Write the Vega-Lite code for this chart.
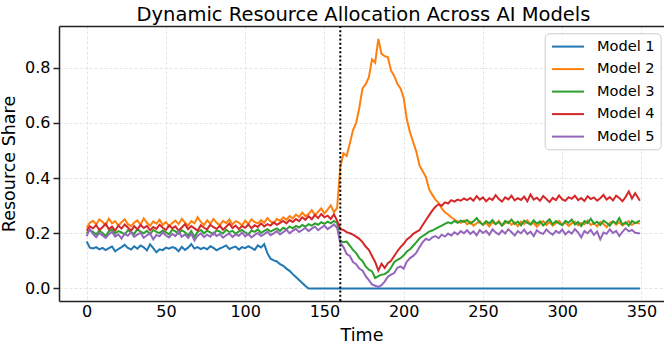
{
  "$schema": "https://vega.github.io/schema/vega-lite/v6.json",
  "width": 605,
  "height": 275,
  "autosize": {"type": "none"},
  "padding": {"left": 59, "top": 26, "right": 0, "bottom": 45},
  "background": "white",
  "config": {
    "view": {"stroke": null},
    "font": "DejaVu Sans",
    "axis": {
      "labelFont": "DejaVu Sans",
      "titleFont": "DejaVu Sans",
      "labelFontSize": 16,
      "titleFontSize": 17.5,
      "titleFontWeight": "normal",
      "labelColor": "#000000",
      "titleColor": "#000000",
      "domainColor": "#222222",
      "domainWidth": 1.5,
      "tickColor": "#222222",
      "tickWidth": 1.5,
      "tickSize": 6,
      "labelPadding": 3,
      "gridColor": "#dddddd",
      "gridDash": [3, 2],
      "gridWidth": 0.8
    }
  },
  "title": {
    "text": "Dynamic Resource Allocation Across AI Models",
    "font": "DejaVu Sans",
    "fontSize": 19.5,
    "fontWeight": "normal",
    "color": "#000000",
    "anchor": "middle",
    "baseline": "alphabetic",
    "offset": 3,
    "dy": 18.7,
    "dx": 2
  },
  "datasets": {
    "shares": [
      {"t":0,"Model 1":0.170,"Model 2":0.220,"Model 3":0.200,"Model 4":0.210,"Model 5":0.190},
      {"t":2,"Model 1":0.148,"Model 2":0.238,"Model 3":0.212,"Model 4":0.225,"Model 5":0.215},
      {"t":4,"Model 1":0.145,"Model 2":0.245,"Model 3":0.205,"Model 4":0.218,"Model 5":0.198},
      {"t":6,"Model 1":0.150,"Model 2":0.232,"Model 3":0.196,"Model 4":0.230,"Model 5":0.186},
      {"t":8,"Model 1":0.142,"Model 2":0.250,"Model 3":0.210,"Model 4":0.212,"Model 5":0.201},
      {"t":10,"Model 1":0.147,"Model 2":0.241,"Model 3":0.201,"Model 4":0.222,"Model 5":0.192},
      {"t":12,"Model 1":0.139,"Model 2":0.229,"Model 3":0.190,"Model 4":0.235,"Model 5":0.183},
      {"t":14,"Model 1":0.146,"Model 2":0.253,"Model 3":0.207,"Model 4":0.215,"Model 5":0.197},
      {"t":16,"Model 1":0.152,"Model 2":0.236,"Model 3":0.214,"Model 4":0.224,"Model 5":0.205},
      {"t":18,"Model 1":0.135,"Model 2":0.244,"Model 3":0.199,"Model 4":0.210,"Model 5":0.188},
      {"t":20,"Model 1":0.143,"Model 2":0.228,"Model 3":0.208,"Model 4":0.228,"Model 5":0.196},
      {"t":22,"Model 1":0.150,"Model 2":0.240,"Model 3":0.203,"Model 4":0.217,"Model 5":0.181},
      {"t":24,"Model 1":0.158,"Model 2":0.251,"Model 3":0.195,"Model 4":0.232,"Model 5":0.199},
      {"t":26,"Model 1":0.147,"Model 2":0.233,"Model 3":0.211,"Model 4":0.221,"Model 5":0.191},
      {"t":28,"Model 1":0.141,"Model 2":0.226,"Model 3":0.204,"Model 4":0.209,"Model 5":0.204},
      {"t":30,"Model 1":0.153,"Model 2":0.239,"Model 3":0.198,"Model 4":0.226,"Model 5":0.187},
      {"t":32,"Model 1":0.144,"Model 2":0.247,"Model 3":0.215,"Model 4":0.214,"Model 5":0.195},
      {"t":34,"Model 1":0.156,"Model 2":0.231,"Model 3":0.206,"Model 4":0.230,"Model 5":0.202},
      {"t":36,"Model 1":0.149,"Model 2":0.254,"Model 3":0.200,"Model 4":0.219,"Model 5":0.184},
      {"t":38,"Model 1":0.138,"Model 2":0.238,"Model 3":0.209,"Model 4":0.227,"Model 5":0.193},
      {"t":40,"Model 1":0.160,"Model 2":0.227,"Model 3":0.197,"Model 4":0.211,"Model 5":0.200},
      {"t":42,"Model 1":0.146,"Model 2":0.243,"Model 3":0.212,"Model 4":0.223,"Model 5":0.178},
      {"t":44,"Model 1":0.131,"Model 2":0.235,"Model 3":0.205,"Model 4":0.216,"Model 5":0.194},
      {"t":46,"Model 1":0.142,"Model 2":0.249,"Model 3":0.201,"Model 4":0.231,"Model 5":0.189},
      {"t":48,"Model 1":0.139,"Model 2":0.230,"Model 3":0.210,"Model 4":0.220,"Model 5":0.203},
      {"t":50,"Model 1":0.148,"Model 2":0.241,"Model 3":0.203,"Model 4":0.212,"Model 5":0.192},
      {"t":52,"Model 1":0.144,"Model 2":0.226,"Model 3":0.196,"Model 4":0.228,"Model 5":0.185},
      {"t":54,"Model 1":0.150,"Model 2":0.237,"Model 3":0.213,"Model 4":0.218,"Model 5":0.198},
      {"t":56,"Model 1":0.146,"Model 2":0.246,"Model 3":0.207,"Model 4":0.225,"Model 5":0.190},
      {"t":58,"Model 1":0.135,"Model 2":0.233,"Model 3":0.199,"Model 4":0.209,"Model 5":0.206},
      {"t":60,"Model 1":0.151,"Model 2":0.252,"Model 3":0.211,"Model 4":0.221,"Model 5":0.187},
      {"t":62,"Model 1":0.140,"Model 2":0.239,"Model 3":0.204,"Model 4":0.233,"Model 5":0.196},
      {"t":64,"Model 1":0.148,"Model 2":0.228,"Model 3":0.193,"Model 4":0.215,"Model 5":0.183},
      {"t":66,"Model 1":0.161,"Model 2":0.244,"Model 3":0.208,"Model 4":0.226,"Model 5":0.199},
      {"t":68,"Model 1":0.145,"Model 2":0.236,"Model 3":0.187,"Model 4":0.218,"Model 5":0.174},
      {"t":70,"Model 1":0.150,"Model 2":0.258,"Model 3":0.205,"Model 4":0.210,"Model 5":0.191},
      {"t":72,"Model 1":0.143,"Model 2":0.241,"Model 3":0.212,"Model 4":0.229,"Model 5":0.200},
      {"t":74,"Model 1":0.148,"Model 2":0.230,"Model 3":0.200,"Model 4":0.220,"Model 5":0.186},
      {"t":76,"Model 1":0.142,"Model 2":0.247,"Model 3":0.209,"Model 4":0.214,"Model 5":0.195},
      {"t":78,"Model 1":0.153,"Model 2":0.235,"Model 3":0.203,"Model 4":0.231,"Model 5":0.188},
      {"t":80,"Model 1":0.147,"Model 2":0.252,"Model 3":0.196,"Model 4":0.222,"Model 5":0.202},
      {"t":82,"Model 1":0.138,"Model 2":0.238,"Model 3":0.211,"Model 4":0.216,"Model 5":0.190},
      {"t":84,"Model 1":0.145,"Model 2":0.229,"Model 3":0.206,"Model 4":0.227,"Model 5":0.197},
      {"t":86,"Model 1":0.150,"Model 2":0.245,"Model 3":0.199,"Model 4":0.213,"Model 5":0.184},
      {"t":88,"Model 1":0.156,"Model 2":0.237,"Model 3":0.213,"Model 4":0.224,"Model 5":0.193},
      {"t":90,"Model 1":0.143,"Model 2":0.250,"Model 3":0.204,"Model 4":0.235,"Model 5":0.199},
      {"t":92,"Model 1":0.148,"Model 2":0.232,"Model 3":0.209,"Model 4":0.219,"Model 5":0.187},
      {"t":94,"Model 1":0.152,"Model 2":0.244,"Model 3":0.198,"Model 4":0.228,"Model 5":0.196},
      {"t":96,"Model 1":0.141,"Model 2":0.239,"Model 3":0.207,"Model 4":0.215,"Model 5":0.191},
      {"t":98,"Model 1":0.150,"Model 2":0.228,"Model 3":0.212,"Model 4":0.226,"Model 5":0.203},
      {"t":100,"Model 1":0.146,"Model 2":0.246,"Model 3":0.203,"Model 4":0.220,"Model 5":0.189},
      {"t":102,"Model 1":0.153,"Model 2":0.234,"Model 3":0.196,"Model 4":0.232,"Model 5":0.198},
      {"t":104,"Model 1":0.147,"Model 2":0.251,"Model 3":0.210,"Model 4":0.218,"Model 5":0.185},
      {"t":106,"Model 1":0.140,"Model 2":0.240,"Model 3":0.205,"Model 4":0.229,"Model 5":0.194},
      {"t":108,"Model 1":0.156,"Model 2":0.236,"Model 3":0.214,"Model 4":0.223,"Model 5":0.201},
      {"t":110,"Model 1":0.149,"Model 2":0.248,"Model 3":0.201,"Model 4":0.236,"Model 5":0.190},
      {"t":112,"Model 1":0.161,"Model 2":0.238,"Model 3":0.209,"Model 4":0.225,"Model 5":0.197},
      {"t":114,"Model 1":0.128,"Model 2":0.255,"Model 3":0.215,"Model 4":0.233,"Model 5":0.205},
      {"t":116,"Model 1":0.108,"Model 2":0.243,"Model 3":0.206,"Model 4":0.228,"Model 5":0.193},
      {"t":118,"Model 1":0.102,"Model 2":0.236,"Model 3":0.212,"Model 4":0.240,"Model 5":0.200},
      {"t":120,"Model 1":0.098,"Model 2":0.252,"Model 3":0.218,"Model 4":0.231,"Model 5":0.208},
      {"t":122,"Model 1":0.088,"Model 2":0.245,"Model 3":0.209,"Model 4":0.238,"Model 5":0.196},
      {"t":124,"Model 1":0.082,"Model 2":0.258,"Model 3":0.220,"Model 4":0.245,"Model 5":0.204},
      {"t":126,"Model 1":0.072,"Model 2":0.249,"Model 3":0.214,"Model 4":0.236,"Model 5":0.213},
      {"t":128,"Model 1":0.064,"Model 2":0.262,"Model 3":0.225,"Model 4":0.248,"Model 5":0.200},
      {"t":130,"Model 1":0.052,"Model 2":0.254,"Model 3":0.218,"Model 4":0.241,"Model 5":0.209},
      {"t":132,"Model 1":0.042,"Model 2":0.268,"Model 3":0.227,"Model 4":0.252,"Model 5":0.216},
      {"t":134,"Model 1":0.031,"Model 2":0.259,"Model 3":0.221,"Model 4":0.244,"Model 5":0.205},
      {"t":136,"Model 1":0.020,"Model 2":0.275,"Model 3":0.230,"Model 4":0.258,"Model 5":0.212},
      {"t":138,"Model 1":0.009,"Model 2":0.262,"Model 3":0.224,"Model 4":0.249,"Model 5":0.220},
      {"t":140,"Model 1":0.000,"Model 2":0.270,"Model 3":0.233,"Model 4":0.262,"Model 5":0.208},
      {"t":142,"Model 1":0,"Model 2":0.284,"Model 3":0.228,"Model 4":0.251,"Model 5":0.217},
      {"t":144,"Model 1":0,"Model 2":0.266,"Model 3":0.236,"Model 4":0.266,"Model 5":0.224},
      {"t":146,"Model 1":0,"Model 2":0.278,"Model 3":0.231,"Model 4":0.255,"Model 5":0.211},
      {"t":148,"Model 1":0,"Model 2":0.290,"Model 3":0.240,"Model 4":0.270,"Model 5":0.220},
      {"t":150,"Model 1":0,"Model 2":0.272,"Model 3":0.234,"Model 4":0.258,"Model 5":0.228},
      {"t":152,"Model 1":0,"Model 2":0.286,"Model 3":0.242,"Model 4":0.264,"Model 5":0.215},
      {"t":154,"Model 1":0,"Model 2":0.301,"Model 3":0.236,"Model 4":0.252,"Model 5":0.223},
      {"t":156,"Model 1":0,"Model 2":0.276,"Model 3":0.245,"Model 4":0.268,"Model 5":0.232},
      {"t":158,"Model 1":0,"Model 2":0.292,"Model 3":0.238,"Model 4":0.246,"Model 5":0.220},
      {"t":160,"Model 1":0,"Model 2":0.440,"Model 3":0.172,"Model 4":0.215,"Model 5":0.165},
      {"t":162,"Model 1":0,"Model 2":0.490,"Model 3":0.168,"Model 4":0.212,"Model 5":0.150},
      {"t":164,"Model 1":0,"Model 2":0.480,"Model 3":0.170,"Model 4":0.204,"Model 5":0.125},
      {"t":166,"Model 1":0,"Model 2":0.525,"Model 3":0.155,"Model 4":0.200,"Model 5":0.118},
      {"t":168,"Model 1":0,"Model 2":0.573,"Model 3":0.140,"Model 4":0.195,"Model 5":0.096},
      {"t":170,"Model 1":0,"Model 2":0.600,"Model 3":0.128,"Model 4":0.188,"Model 5":0.088},
      {"t":172,"Model 1":0,"Model 2":0.655,"Model 3":0.110,"Model 4":0.180,"Model 5":0.072},
      {"t":174,"Model 1":0,"Model 2":0.725,"Model 3":0.100,"Model 4":0.168,"Model 5":0.065},
      {"t":176,"Model 1":0,"Model 2":0.740,"Model 3":0.080,"Model 4":0.152,"Model 5":0.045},
      {"t":178,"Model 1":0,"Model 2":0.765,"Model 3":0.068,"Model 4":0.140,"Model 5":0.030},
      {"t":180,"Model 1":0,"Model 2":0.830,"Model 3":0.062,"Model 4":0.118,"Model 5":0.015},
      {"t":182,"Model 1":0,"Model 2":0.818,"Model 3":0.038,"Model 4":0.096,"Model 5":0.010},
      {"t":184,"Model 1":0,"Model 2":0.904,"Model 3":0.045,"Model 4":0.065,"Model 5":0.006},
      {"t":186,"Model 1":0,"Model 2":0.850,"Model 3":0.050,"Model 4":0.090,"Model 5":0.012},
      {"t":188,"Model 1":0,"Model 2":0.842,"Model 3":0.052,"Model 4":0.074,"Model 5":0.025},
      {"t":190,"Model 1":0,"Model 2":0.838,"Model 3":0.060,"Model 4":0.092,"Model 5":0.043},
      {"t":192,"Model 1":0,"Model 2":0.790,"Model 3":0.075,"Model 4":0.100,"Model 5":0.050},
      {"t":194,"Model 1":0,"Model 2":0.770,"Model 3":0.095,"Model 4":0.118,"Model 5":0.056},
      {"t":196,"Model 1":0,"Model 2":0.742,"Model 3":0.104,"Model 4":0.135,"Model 5":0.075},
      {"t":198,"Model 1":0,"Model 2":0.725,"Model 3":0.110,"Model 4":0.150,"Model 5":0.080},
      {"t":200,"Model 1":0,"Model 2":0.690,"Model 3":0.120,"Model 4":0.162,"Model 5":0.072},
      {"t":202,"Model 1":0,"Model 2":0.612,"Model 3":0.134,"Model 4":0.178,"Model 5":0.098},
      {"t":204,"Model 1":0,"Model 2":0.565,"Model 3":0.142,"Model 4":0.186,"Model 5":0.110},
      {"t":206,"Model 1":0,"Model 2":0.530,"Model 3":0.155,"Model 4":0.198,"Model 5":0.118},
      {"t":208,"Model 1":0,"Model 2":0.495,"Model 3":0.168,"Model 4":0.205,"Model 5":0.130},
      {"t":210,"Model 1":0,"Model 2":0.445,"Model 3":0.182,"Model 4":0.212,"Model 5":0.150},
      {"t":212,"Model 1":0,"Model 2":0.425,"Model 3":0.190,"Model 4":0.230,"Model 5":0.168},
      {"t":214,"Model 1":0,"Model 2":0.404,"Model 3":0.198,"Model 4":0.248,"Model 5":0.180},
      {"t":216,"Model 1":0,"Model 2":0.360,"Model 3":0.206,"Model 4":0.265,"Model 5":0.175},
      {"t":218,"Model 1":0,"Model 2":0.340,"Model 3":0.210,"Model 4":0.282,"Model 5":0.185},
      {"t":220,"Model 1":0,"Model 2":0.322,"Model 3":0.216,"Model 4":0.296,"Model 5":0.190},
      {"t":222,"Model 1":0,"Model 2":0.310,"Model 3":0.222,"Model 4":0.305,"Model 5":0.182},
      {"t":224,"Model 1":0,"Model 2":0.290,"Model 3":0.228,"Model 4":0.300,"Model 5":0.195},
      {"t":226,"Model 1":0,"Model 2":0.276,"Model 3":0.234,"Model 4":0.312,"Model 5":0.188},
      {"t":228,"Model 1":0,"Model 2":0.268,"Model 3":0.240,"Model 4":0.308,"Model 5":0.199},
      {"t":230,"Model 1":0,"Model 2":0.258,"Model 3":0.236,"Model 4":0.320,"Model 5":0.192},
      {"t":232,"Model 1":0,"Model 2":0.250,"Model 3":0.245,"Model 4":0.315,"Model 5":0.204},
      {"t":234,"Model 1":0,"Model 2":0.243,"Model 3":0.238,"Model 4":0.322,"Model 5":0.196},
      {"t":236,"Model 1":0,"Model 2":0.238,"Model 3":0.246,"Model 4":0.318,"Model 5":0.208},
      {"t":238,"Model 1":0,"Model 2":0.246,"Model 3":0.241,"Model 4":0.326,"Model 5":0.200},
      {"t":240,"Model 1":0,"Model 2":0.232,"Model 3":0.248,"Model 4":0.320,"Model 5":0.211},
      {"t":242,"Model 1":0,"Model 2":0.241,"Model 3":0.236,"Model 4":0.328,"Model 5":0.198},
      {"t":244,"Model 1":0,"Model 2":0.228,"Model 3":0.243,"Model 4":0.318,"Model 5":0.207},
      {"t":246,"Model 1":0,"Model 2":0.236,"Model 3":0.255,"Model 4":0.335,"Model 5":0.193},
      {"t":248,"Model 1":0,"Model 2":0.244,"Model 3":0.239,"Model 4":0.322,"Model 5":0.212},
      {"t":250,"Model 1":0,"Model 2":0.230,"Model 3":0.231,"Model 4":0.330,"Model 5":0.201},
      {"t":252,"Model 1":0,"Model 2":0.238,"Model 3":0.244,"Model 4":0.316,"Model 5":0.209},
      {"t":254,"Model 1":0,"Model 2":0.225,"Model 3":0.236,"Model 4":0.327,"Model 5":0.195},
      {"t":256,"Model 1":0,"Model 2":0.240,"Model 3":0.248,"Model 4":0.321,"Model 5":0.214},
      {"t":258,"Model 1":0,"Model 2":0.233,"Model 3":0.233,"Model 4":0.338,"Model 5":0.203},
      {"t":260,"Model 1":0,"Model 2":0.245,"Model 3":0.241,"Model 4":0.324,"Model 5":0.196},
      {"t":262,"Model 1":0,"Model 2":0.229,"Model 3":0.228,"Model 4":0.315,"Model 5":0.210},
      {"t":264,"Model 1":0,"Model 2":0.237,"Model 3":0.245,"Model 4":0.330,"Model 5":0.199},
      {"t":266,"Model 1":0,"Model 2":0.243,"Model 3":0.237,"Model 4":0.323,"Model 5":0.215},
      {"t":268,"Model 1":0,"Model 2":0.231,"Model 3":0.250,"Model 4":0.336,"Model 5":0.204},
      {"t":270,"Model 1":0,"Model 2":0.239,"Model 3":0.234,"Model 4":0.319,"Model 5":0.192},
      {"t":272,"Model 1":0,"Model 2":0.226,"Model 3":0.242,"Model 4":0.327,"Model 5":0.208},
      {"t":274,"Model 1":0,"Model 2":0.242,"Model 3":0.229,"Model 4":0.321,"Model 5":0.200},
      {"t":276,"Model 1":0,"Model 2":0.234,"Model 3":0.246,"Model 4":0.333,"Model 5":0.213},
      {"t":278,"Model 1":0,"Model 2":0.247,"Model 3":0.238,"Model 4":0.316,"Model 5":0.197},
      {"t":280,"Model 1":0,"Model 2":0.232,"Model 3":0.232,"Model 4":0.340,"Model 5":0.206},
      {"t":282,"Model 1":0,"Model 2":0.238,"Model 3":0.247,"Model 4":0.322,"Model 5":0.190},
      {"t":284,"Model 1":0,"Model 2":0.224,"Model 3":0.235,"Model 4":0.329,"Model 5":0.211},
      {"t":286,"Model 1":0,"Model 2":0.236,"Model 3":0.243,"Model 4":0.318,"Model 5":0.202},
      {"t":288,"Model 1":0,"Model 2":0.244,"Model 3":0.228,"Model 4":0.335,"Model 5":0.198},
      {"t":290,"Model 1":0,"Model 2":0.230,"Model 3":0.240,"Model 4":0.324,"Model 5":0.214},
      {"t":292,"Model 1":0,"Model 2":0.240,"Model 3":0.251,"Model 4":0.313,"Model 5":0.203},
      {"t":294,"Model 1":0,"Model 2":0.228,"Model 3":0.233,"Model 4":0.328,"Model 5":0.195},
      {"t":296,"Model 1":0,"Model 2":0.237,"Model 3":0.244,"Model 4":0.320,"Model 5":0.209},
      {"t":298,"Model 1":0,"Model 2":0.245,"Model 3":0.236,"Model 4":0.337,"Model 5":0.201},
      {"t":300,"Model 1":0,"Model 2":0.231,"Model 3":0.229,"Model 4":0.323,"Model 5":0.213},
      {"t":302,"Model 1":0,"Model 2":0.239,"Model 3":0.245,"Model 4":0.318,"Model 5":0.196},
      {"t":304,"Model 1":0,"Model 2":0.227,"Model 3":0.238,"Model 4":0.331,"Model 5":0.207},
      {"t":306,"Model 1":0,"Model 2":0.236,"Model 3":0.250,"Model 4":0.325,"Model 5":0.199},
      {"t":308,"Model 1":0,"Model 2":0.242,"Model 3":0.232,"Model 4":0.336,"Model 5":0.215},
      {"t":310,"Model 1":0,"Model 2":0.229,"Model 3":0.241,"Model 4":0.320,"Model 5":0.203},
      {"t":312,"Model 1":0,"Model 2":0.238,"Model 3":0.226,"Model 4":0.328,"Model 5":0.185},
      {"t":314,"Model 1":0,"Model 2":0.233,"Model 3":0.244,"Model 4":0.317,"Model 5":0.208},
      {"t":316,"Model 1":0,"Model 2":0.246,"Model 3":0.237,"Model 4":0.334,"Model 5":0.200},
      {"t":318,"Model 1":0,"Model 2":0.230,"Model 3":0.253,"Model 4":0.324,"Model 5":0.212},
      {"t":320,"Model 1":0,"Model 2":0.237,"Model 3":0.235,"Model 4":0.330,"Model 5":0.194},
      {"t":322,"Model 1":0,"Model 2":0.225,"Model 3":0.242,"Model 4":0.318,"Model 5":0.206},
      {"t":324,"Model 1":0,"Model 2":0.241,"Model 3":0.230,"Model 4":0.327,"Model 5":0.178},
      {"t":326,"Model 1":0,"Model 2":0.234,"Model 3":0.246,"Model 4":0.339,"Model 5":0.203},
      {"t":328,"Model 1":0,"Model 2":0.222,"Model 3":0.238,"Model 4":0.322,"Model 5":0.198},
      {"t":330,"Model 1":0,"Model 2":0.238,"Model 3":0.227,"Model 4":0.331,"Model 5":0.214},
      {"t":332,"Model 1":0,"Model 2":0.243,"Model 3":0.243,"Model 4":0.319,"Model 5":0.201},
      {"t":334,"Model 1":0,"Model 2":0.231,"Model 3":0.236,"Model 4":0.336,"Model 5":0.209},
      {"t":336,"Model 1":0,"Model 2":0.240,"Model 3":0.255,"Model 4":0.328,"Model 5":0.190},
      {"t":338,"Model 1":0,"Model 2":0.228,"Model 3":0.232,"Model 4":0.316,"Model 5":0.205},
      {"t":340,"Model 1":0,"Model 2":0.236,"Model 3":0.240,"Model 4":0.332,"Model 5":0.218},
      {"t":342,"Model 1":0,"Model 2":0.244,"Model 3":0.228,"Model 4":0.352,"Model 5":0.207},
      {"t":344,"Model 1":0,"Model 2":0.230,"Model 3":0.245,"Model 4":0.326,"Model 5":0.212},
      {"t":346,"Model 1":0,"Model 2":0.238,"Model 3":0.237,"Model 4":0.345,"Model 5":0.202},
      {"t":349,"Model 1":0,"Model 2":0.235,"Model 3":0.246,"Model 4":0.318,"Model 5":0.199}
    ],
    "events": [{"t": 160}]
  },
  "layer": [
    {
      "data": {"name": "shares"},
      "transform": [
        {"fold": ["Model 1", "Model 2", "Model 3", "Model 4", "Model 5"], "as": ["model", "share"]}
      ],
      "mark": {"type": "line", "strokeWidth": 2, "interpolate": "linear"},
      "encoding": {
        "x": {
          "field": "t", "type": "quantitative",
          "scale": {"domain": [-17.45, 364.2], "nice": false, "zero": false},
          "axis": {"title": "Time", "values": [0, 50, 100, 150, 200, 250, 300, 350], "grid": true, "tickSize": 0, "labelPadding": 2, "titlePadding": 7}
        },
        "y": {
          "field": "share", "type": "quantitative",
          "scale": {"domain": [-0.0453, 0.951], "nice": false, "zero": false},
          "axis": {"title": "Resource Share", "values": [0, 0.2, 0.4, 0.6, 0.8], "format": ".1f", "grid": true, "titlePadding": 6}
        },
        "color": {
          "field": "model", "type": "nominal",
          "scale": {
            "domain": ["Model 1", "Model 2", "Model 3", "Model 4", "Model 5"],
            "range": ["#1f77b4", "#ff7f0e", "#2ca02c", "#d62728", "#9467bd"]
          },
          "legend": {
            "title": null,
            "orient": "none",
            "legendX": 485.7,
            "legendY": 7.3,
            "direction": "vertical",
            "labelFont": "DejaVu Sans",
            "labelFontSize": 14.6,
            "labelColor": "#000000",
            "symbolType": "M-3.2,0L3.2,0",
            "symbolSize": 100,
            "symbolStrokeWidth": 2,
            "symbolOffset": 10,
            "labelOffset": 21.6,
            "rowPadding": 7.5,
            "padding": 6,
            "strokeColor": "#cccccc",
            "fillColor": "rgba(255,255,255,0.8)",
            "cornerRadius": 4
          }
        }
      }
    },
    {
      "data": {"name": "events"},
      "mark": {"type": "rule", "color": "#000000", "strokeWidth": 2, "strokeDash": [2, 2.2]},
      "encoding": {
        "x": {
          "field": "t", "type": "quantitative",
          "axis": {"orient": "top", "labels": false, "ticks": false, "grid": false, "title": null, "domain": true}
        }
      }
    }
  ],
  "resolve": {"axis": {"x": "independent"}}
}
